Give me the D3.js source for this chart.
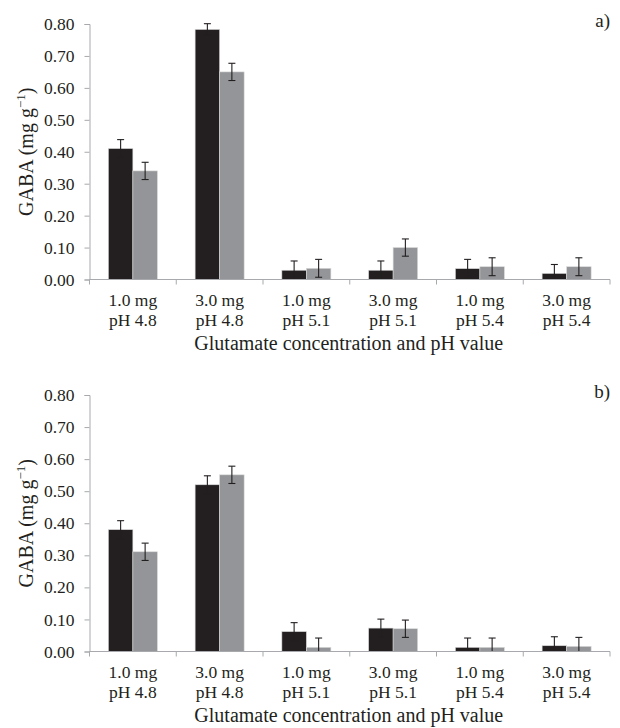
<!DOCTYPE html>
<html>
<head>
<meta charset="utf-8">
<script src="https://cdn.jsdelivr.net/npm/d3@7"></script>
<style>
  html, body { margin: 0; padding: 0; background: #fff; }
  svg text { font-family: "Liberation Serif", serif; fill: #231f20; }
</style>
</head>
<body>
<svg id="chart" width="620" height="728"></svg>
<script>
// ---- data ----
const categories = [
  ["1.0 mg", "pH 4.8"], ["3.0 mg", "pH 4.8"],
  ["1.0 mg", "pH 5.1"], ["3.0 mg", "pH 5.1"],
  ["1.0 mg", "pH 5.4"], ["3.0 mg", "pH 5.4"]
];
const seriesNames = ["s1", "s2"];
const aBlack = [0.41, 0.783, 0.029, 0.029, 0.034, 0.019];
const aBlackErr = [0.028, 0.018, 0.029, 0.029, 0.029, 0.028];
const aGrey = [0.34, 0.65, 0.035, 0.10, 0.04, 0.04];
const aGreyErr = [0.027, 0.027, 0.028, 0.027, 0.028, 0.028];
const bBlack = [0.38, 0.52, 0.062, 0.073, 0.013, 0.018];
const bBlackErr = [0.028, 0.028, 0.028, 0.028, 0.029, 0.028];
const bGrey = [0.311, 0.551, 0.013, 0.071, 0.013, 0.016];
const bGreyErr = [0.027, 0.027, 0.029, 0.027, 0.029, 0.028];
const yTicks = [0, 0.1, 0.2, 0.3, 0.4, 0.5, 0.6, 0.7, 0.8];
const panelLabels = ["a)", "b)"];
const xTitle = "Glutamate concentration and pH value";

const colors = ["#231f20", "#939598"];
const svg = d3.select("#chart");

function panel(top, bottom, blk, blkE, gry, gryE, label) {
  const left = 89.5, right = 610;
  const g = svg.append("g");
  const x = d3.scaleBand().domain(d3.range(categories.length)).range([left, right]).padding(0);
  const inner = d3.scaleBand().domain(seriesNames).range([0, x.bandwidth()]).paddingOuter(0.77).paddingInner(0);
  const y = d3.scaleLinear().domain([0, 0.8]).range([bottom, top]);

  // y axis
  const ya = g.append("g").attr("transform", `translate(${left},0)`)
    .call(d3.axisLeft(y).tickValues(yTicks).tickFormat(d3.format(".2f")).tickSize(5).tickPadding(10));
  ya.select(".domain").attr("stroke", "#a7a9ac").attr("stroke-width", 1);
  ya.selectAll(".tick line").attr("stroke", "#a7a9ac");
  ya.selectAll(".tick text").style("font-size", "17.5px");

  // bars
  const data = [blk, gry];
  const errs = [blkE, gryE];
  seriesNames.forEach((s, si) => {
    g.append("g").selectAll("rect").data(data[si]).join("rect")
      .attr("x", (d, i) => x(i) + inner(s))
      .attr("width", inner.bandwidth())
      .attr("y", d => y(d))
      .attr("height", d => y(0) - y(d))
      .attr("fill", colors[si])
      .attr("stroke", "#d9d9d9").attr("stroke-width", 0.6);
  });
  // error bars
  seriesNames.forEach((s, si) => {
    const eg = g.append("g").attr("stroke", "#231f20").attr("stroke-width", 1.1);
    data[si].forEach((d, i) => {
      const cx = x(i) + inner(s) + inner.bandwidth() / 2;
      const hi = d + errs[si][i], lo = Math.max(0, d - errs[si][i]);
      eg.append("line").attr("x1", cx).attr("x2", cx).attr("y1", y(hi)).attr("y2", y(lo));
      eg.append("line").attr("x1", cx - 3.5).attr("x2", cx + 3.5).attr("y1", y(hi)).attr("y2", y(hi));
      if (lo > 0) eg.append("line").attr("x1", cx - 3.5).attr("x2", cx + 3.5).attr("y1", y(lo)).attr("y2", y(lo));
    });
  });

  // x axis
  const xa = g.append("g").attr("transform", `translate(0,${bottom})`);
  xa.append("line").attr("x1", left).attr("x2", right).attr("stroke", "#a7a9ac");
  const edges = d3.range(categories.length + 1).map(i => i < categories.length ? x(i) : right);
  xa.selectAll("line.t").data(edges).join("line").attr("class", "t")
    .attr("x1", d => d).attr("x2", d => d).attr("y1", 0).attr("y2", 5).attr("stroke", "#a7a9ac");
  const lab = xa.selectAll("text.c").data(categories).join("text").attr("class", "c")
    .attr("text-anchor", "middle").style("font-size", "17.5px")
    .attr("transform", (d, i) => `translate(${x(i) + x.bandwidth() / 2},0)`);
  lab.append("tspan").attr("x", 0).attr("y", 26).text(d => d[0]);
  lab.append("tspan").attr("x", 0).attr("y", 46).text(d => d[1]);
  xa.append("text").attr("x", (left + right) / 2 - 1).attr("y", 70).attr("text-anchor", "middle")
    .style("font-size", "20px").text(xTitle);

  // y title
  const yt = g.append("text").attr("transform", `translate(33,${(top + bottom) / 2}) rotate(-90)`)
    .attr("text-anchor", "middle").style("font-size", "20px");
  yt.append("tspan").text("GABA (mg g");
  yt.append("tspan").style("font-size", "13px").attr("dy", -8).text("−1");
  yt.append("tspan").attr("dy", 8).text(")");

  // panel label
  g.append("text").attr("x", 610).attr("y", top + 3).attr("text-anchor", "end").style("font-size", "19px").text(label);
}

panel(24, 279.5, aBlack, aBlackErr, aGrey, aGreyErr, panelLabels[0]);
panel(395, 651.5, bBlack, bBlackErr, bGrey, bGreyErr, panelLabels[1]);
</script>
</body>
</html>
